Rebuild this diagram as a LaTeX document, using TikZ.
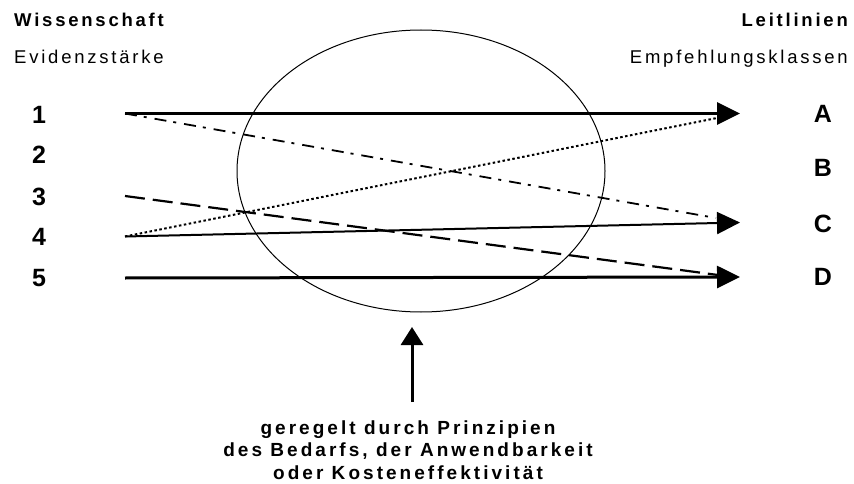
\documentclass[tikz,border=0pt]{standalone}
\usepackage{fontspec}
\setmainfont{Liberation Sans}
\newfontfamily\spaced[LetterSpace=15]{Liberation Sans}
\newfontfamily\spacednote[LetterSpace=16]{Liberation Sans}
\usetikzlibrary{arrows.meta,shapes.geometric}
\begin{document}
\begin{tikzpicture}[x=1pt,y=-1pt,
  hdr/.style={font=\spaced\fontsize{18.5}{20}\selectfont, inner sep=0pt},
  hdrb/.style={font=\spaced\bfseries\fontsize{18.5}{20}\selectfont, inner sep=0pt},
  num/.style={font=\bfseries\fontsize{25}{25}\selectfont, inner sep=0pt},
  strong/.style={line width=3pt},
  tip/.style={-{Triangle[length=23pt,width=22pt]}},
  dashdot/.style={line width=1.8pt, dash pattern=on 12pt off 7pt on 3pt off 8pt},
  longdash/.style={line width=2.2pt, dash pattern=on 20pt off 8pt},
  dots/.style={line width=2pt, dash pattern=on 2.5pt off 2.5pt}]
\useasboundingbox (0,0) rectangle (854,484);

% headers
\node[hdrb, anchor=base west] (wiss) at (14,27) {Wissenschaft};
\node[hdr, anchor=base west] (evid) at (14,64) {Evidenzstärke};
\node[hdrb, anchor=base east] (leit) at (848,27) {Leitlinien};
\node[hdr, anchor=base east] (empf) at (848,64) {Empfehlungsklassen};

% levels
\node[num] (n1) at (39,114.5) {1};
\node[num] (n2) at (39,155) {2};
\node[num] (n3) at (39,196.5) {3};
\node[num] (n4) at (39,237) {4};
\node[num] (n5) at (39,278) {5};

\node[num] (la) at (823,114) {A};
\node[num] (lb) at (823,168) {B};
\node[num] (lc) at (823,224) {C};
\node[num] (ld) at (823,277) {D};

% ellipse
\node[draw, ellipse, line width=1pt, minimum width=368pt, minimum height=282pt, inner sep=0pt] (zone) at (421,171) {};

% start and end points
\coordinate (s1) at (125,113.5);
\coordinate (s3) at (125,196);
\coordinate (s4) at (125,236.5);
\coordinate (s5) at (125,278);
\coordinate (ta) at (740,113.5);
\coordinate (tc) at (740,222.5);
\coordinate (td) at (740,277);
\coordinate (ea) at (722,117);
\coordinate (ec) at (716,218);
\coordinate (ed) at (718,275);

% connectors
\draw[dashdot] (s1) -- (ec);
\draw[longdash] (s3) -- (ed);
\draw[dots] (s4) -- (ea);
\draw[strong, tip] (s1) -- (ta);
\draw[line width=2pt, tip] (s4) -- (tc);
\draw[strong, tip] (s5) -- (td);

% note
\node[font=\spacednote\bfseries\fontsize{19}{22.5}\selectfont, align=center, inner sep=0pt, anchor=base] (note) at (408,479)
  {geregelt durch Prinzipien\\des Bedarfs, der Anwendbarkeit\\oder Kosteneffektivität};
\coordinate (us) at (412,402);
\coordinate (ut) at (412,327);
\draw[strong, -{Triangle[length=18pt,width=22pt]}] (us) -- (ut);
\end{tikzpicture}
\end{document}
